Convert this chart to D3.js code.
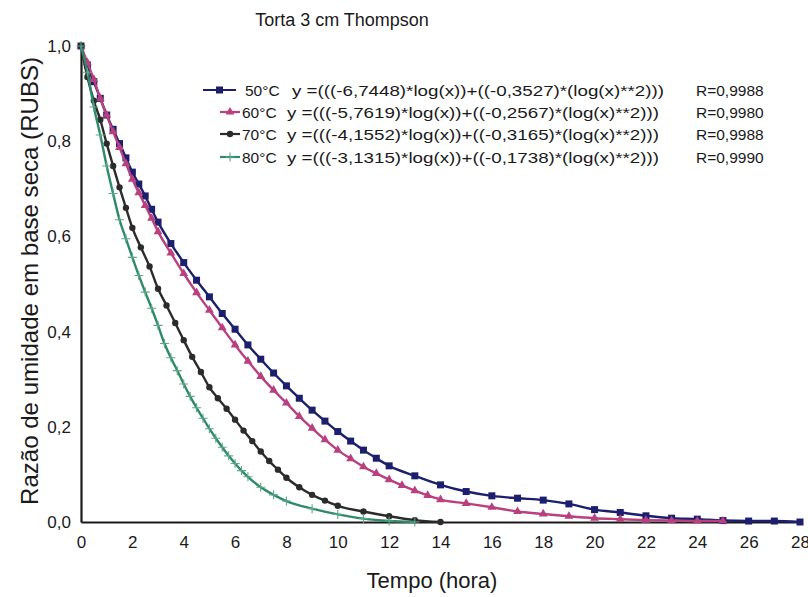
<!DOCTYPE html>
<html>
<head>
<meta charset="utf-8">
<script src="https://cdn.jsdelivr.net/npm/d3@7"></script>
<style>
  body { margin: 0; background: #fff; }
  text { font-family: Arial, "Liberation Sans", sans-serif; fill: #1a1a1a; }
</style>
</head>
<body>
<div id="chart"></div>
<script>
// drying curves, time (h) vs moisture ratio
var t50 = [0, 0.25, 0.5, 0.75, 1, 1.25, 1.5, 1.75, 2, 2.25, 2.5, 2.75, 3,
  3.5, 4, 4.5, 5, 5.5, 6, 6.5, 7, 7.5, 8, 8.5, 9, 9.5, 10, 10.5, 11, 11.5, 12,
  13, 14, 15, 16, 17, 18, 19, 20, 21, 22, 23, 24, 25, 26, 27, 28];
var y50 = [1.0, 0.96, 0.925, 0.89, 0.855, 0.825, 0.795, 0.765, 0.735, 0.71, 0.685, 0.657, 0.63,
  0.585, 0.545, 0.508, 0.473, 0.438, 0.405, 0.372, 0.342, 0.313, 0.286, 0.26, 0.235, 0.212, 0.19, 0.17, 0.151, 0.134, 0.118,
  0.097, 0.078, 0.064, 0.055, 0.05, 0.046, 0.038, 0.026, 0.02, 0.013, 0.008, 0.006, 0.003, 0.002, 0.002, 0.0];

var t60 = [0, 0.25, 0.5, 0.75, 1, 1.25, 1.5, 1.75, 2, 2.25, 2.5, 2.75, 3,
  3.5, 4, 4.5, 5, 5.5, 6, 6.5, 7, 7.5, 8, 8.5, 9, 9.5, 10, 10.5, 11, 11.5, 12, 12.5, 13, 13.5, 14,
  15, 16, 17, 18, 19, 20, 21, 22, 23, 24, 25];
var y60 = [1.0, 0.965, 0.93, 0.89, 0.855, 0.82, 0.787, 0.753, 0.72, 0.692, 0.665, 0.638, 0.61,
  0.565, 0.522, 0.482, 0.445, 0.408, 0.372, 0.338, 0.306, 0.277, 0.25, 0.222, 0.197, 0.173, 0.151, 0.133, 0.116, 0.102, 0.089, 0.077, 0.066, 0.056, 0.047,
  0.039, 0.031, 0.022, 0.017, 0.012, 0.008, 0.006, 0.004, 0.003, 0.002, 0.002];

var t70 = [0, 0.25, 0.5, 0.75, 1, 1.25, 1.5, 1.75, 2, 2.33, 2.67, 3, 3.33, 3.67, 4, 4.33, 4.67,
  5, 5.33, 5.67, 6, 6.33, 6.67, 7, 7.33, 7.67, 8, 8.5, 9, 9.5, 10, 11, 12, 13, 14];
var y70 = [1.0, 0.935, 0.885, 0.845, 0.795, 0.748, 0.703, 0.66, 0.618, 0.577, 0.537, 0.49, 0.455, 0.418, 0.382, 0.347, 0.315,
  0.283, 0.26, 0.238, 0.215, 0.192, 0.17, 0.148, 0.128, 0.11, 0.093, 0.073, 0.057, 0.045, 0.034, 0.022, 0.012, 0.004, 0.0];

var t80 = [0, 0.25, 0.5, 0.75, 1, 1.25, 1.5, 1.75, 2, 2.25, 2.5, 2.75, 3, 3.25, 3.5, 3.75, 4, 4.25, 4.5,
  4.75, 5, 5.25, 5.5, 5.75, 6, 6.25, 6.5, 7, 7.5, 8, 9, 10, 11, 12, 13];
var y80 = [1.0, 0.945, 0.872, 0.813, 0.748, 0.69, 0.635, 0.595, 0.556, 0.518, 0.483, 0.449, 0.413, 0.375, 0.345, 0.318, 0.29, 0.264, 0.24,
  0.218, 0.196, 0.176, 0.157, 0.139, 0.123, 0.108, 0.095, 0.073, 0.057, 0.044, 0.028, 0.016, 0.007, 0.002, 0.0];

var seriesNames = ["50°C", "60°C", "70°C", "80°C"];
var equations = [
  "y =(((-6,7448)*log(x))+((-0,3527)*(log(x)**2)))",
  "y =(((-5,7619)*log(x))+((-0,2567)*(log(x)**2)))",
  "y =(((-4,1552)*log(x))+((-0,3165)*(log(x)**2)))",
  "y =(((-3,1315)*log(x))+((-0,1738)*(log(x)**2)))"
];
var rValues = ["R=0,9988", "R=0,9980", "R=0,9988", "R=0,9990"];
var xTicks = d3.range(0, 29, 2);
var yTicks = [0, 0.2, 0.4, 0.6, 0.8, 1.0];

var svgWidth = 808;
var svgHeight = 597;
var margin = { top: 46, right: 8, bottom: 75, left: 81 };
var chartWidth = svgWidth - margin.left - margin.right;
var chartHeight = svgHeight - margin.top - margin.bottom;

var colors = ["#1b1f6e", "#b8407f", "#2b2b2b", "#2f8a68"];
var markerTypes = ["square", "triangle", "circle", "plus"];

var svg = d3.select("#chart")
  .append("svg")
  .attr("width", svgWidth)
  .attr("height", svgHeight);

var chartGroup = svg.append("g")
  .attr("transform", `translate(${margin.left}, ${margin.top})`);

var xScale = d3.scaleLinear().domain([0, 28]).range([0, chartWidth]);
var yScale = d3.scaleLinear().domain([0, 1]).range([chartHeight, 0]);

var fmt = d => d3.format(".1f")(d).replace(".", ",");

var bottomAxis = d3.axisBottom(xScale).tickValues(xTicks).tickSize(0).tickPadding(14);
var leftAxis = d3.axisLeft(yScale).tickValues(yTicks).tickFormat(fmt).tickSize(0).tickPadding(10);

var xAxis = chartGroup.append("g")
  .attr("transform", `translate(0, ${chartHeight})`)
  .call(bottomAxis);
var yAxis = chartGroup.append("g").call(leftAxis);

[xAxis, yAxis].forEach(function(ax) {
  ax.attr("font-size", null).attr("font-family", null);
  ax.select(".domain").attr("stroke", "#1a1a1a").attr("stroke-width", 2.2);
  ax.selectAll("text")
    .style("font-size", "17px")
    .attr("fill", "#1a1a1a");
});

// small tick at top of y axis
chartGroup.append("line")
  .attr("x1", 0).attr("x2", 4)
  .attr("y1", yScale(1)).attr("y2", yScale(1))
  .attr("stroke", "#1a1a1a").attr("stroke-width", 1.5);

function drawMarker(g, type, color, x, y) {
  if (type === "square") {
    g.append("rect").attr("x", x - 3.5).attr("y", y - 3.5).attr("width", 7).attr("height", 7).attr("fill", color);
  } else if (type === "triangle") {
    g.append("path").attr("d", d3.symbol(d3.symbolTriangle, 34)()).attr("transform", `translate(${x},${y})`).attr("fill", color);
  } else if (type === "circle") {
    g.append("circle").attr("cx", x).attr("cy", y).attr("r", 3.2).attr("fill", color);
  } else {
    g.append("path").attr("d", `M${x - 4.5},${y}H${x + 4.5}M${x},${y - 4.5}V${y + 4.5}`)
      .attr("stroke", "#5aa888").attr("stroke-width", 1.1).attr("fill", "none");
  }
}

var allSeries = [
  { t: t50, y: y50 },
  { t: t60, y: y60 },
  { t: t70, y: y70 },
  { t: t80, y: y80 }
];

var line = d3.line()
  .x(d => xScale(d[0]))
  .y(d => yScale(d[1]))
  .curve(d3.curveMonotoneX);

allSeries.forEach(function(s, i) {
  var pts = s.t.map((t, j) => [t, s.y[j]]);
  chartGroup.append("path")
    .datum(pts)
    .attr("d", line)
    .attr("fill", "none")
    .attr("stroke", colors[i])
    .attr("stroke-width", 2.4);
  var mg = chartGroup.append("g");
  pts.forEach(p => drawMarker(mg, markerTypes[i], colors[i], xScale(p[0]), yScale(p[1])));
});

// title
svg.append("text")
  .attr("x", 342).attr("y", 26)
  .attr("text-anchor", "middle")
  .style("font-size", "18px")
  .text("Torta 3 cm Thompson");

// axis titles
svg.append("text")
  .attr("x", 432).attr("y", 588)
  .attr("text-anchor", "middle")
  .style("font-size", "22px")
  .text("Tempo (hora)");

svg.append("text")
  .attr("transform", "rotate(-90)")
  .attr("x", -281).attr("y", 38)
  .attr("text-anchor", "middle")
  .attr("textLength", 448)
  .attr("lengthAdjust", "spacingAndGlyphs")
  .style("font-size", "24px")
  .text("Razão de umidade em base seca (RUBS)");

// legend
var legendRows = [90, 112, 134, 157];
legendRows.forEach(function(ly, i) {
  var g = svg.append("g");
  var x1 = i === 0 ? 203 : 220;
  var x2 = i === 0 ? 236 : 240;
  g.append("line")
    .attr("x1", x1).attr("x2", x2).attr("y1", ly).attr("y2", ly)
    .attr("stroke", colors[i]).attr("stroke-width", 2.2);
  drawMarker(g, markerTypes[i], colors[i], (x1 + x2) / 2, ly);
  g.append("text")
    .attr("x", i === 0 ? 245 : 242).attr("y", ly + 5.5)
    .style("font-size", "15.5px")
    .text(seriesNames[i]);
  g.append("text")
    .attr("x", i === 0 ? 292 : 287).attr("y", ly + 5.5)
    .attr("textLength", 372)
    .attr("lengthAdjust", "spacingAndGlyphs")
    .style("font-size", "15px")
    .text(equations[i]);
  g.append("text")
    .attr("x", 696).attr("y", ly + 5.5)
    .style("font-size", "15.5px")
    .text(rValues[i]);
});
</script>
</body>
</html>
